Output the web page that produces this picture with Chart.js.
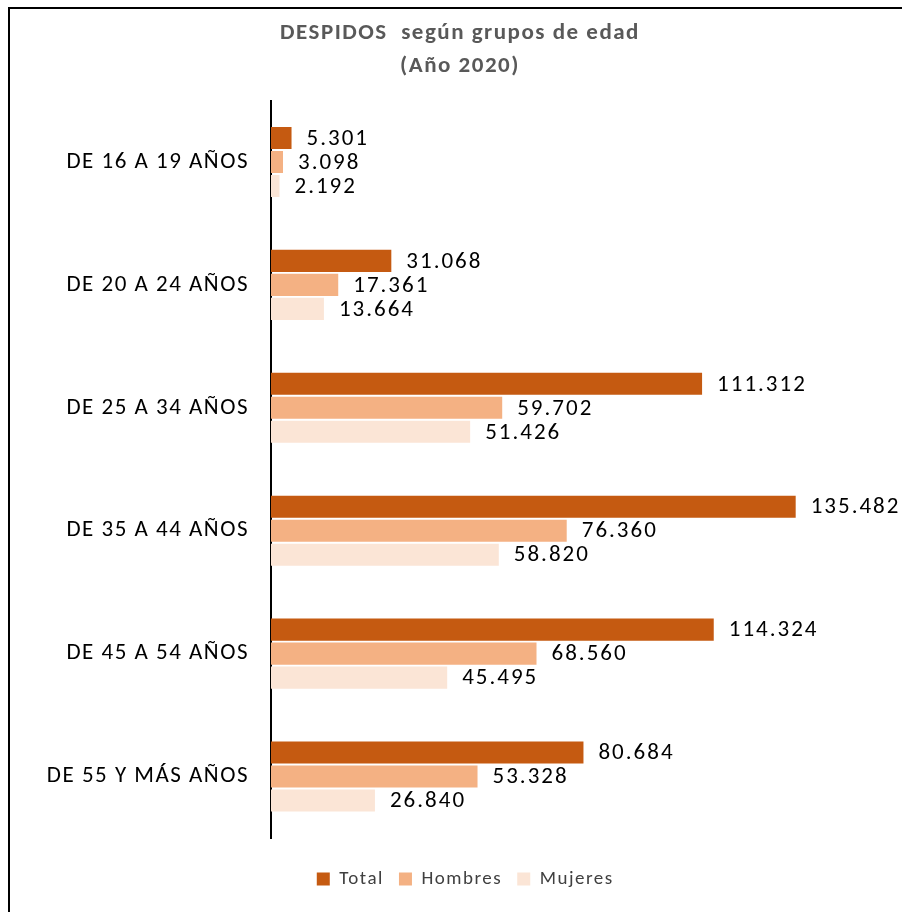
<!DOCTYPE html>
<html lang="es">
<head>
  <meta charset="UTF-8" />
  <title>Despidos según grupos de edad</title>
  <script src="https://cdn.jsdelivr.net/npm/chart.js"></script>
  <style>
    html, body {
      margin: 0;
      background: #ffffff;
      overflow: hidden;
    }
    .frame {
      position: absolute;
      left: 8px;
      top: 7px;
      width: 902px;
      height: 940px;
      border-left: 2px solid #000;
      border-top: 2px solid #000;
      background: #fff;
    }
  </style>
</head>
<body>
  <div class="frame">
    <canvas id="despidos"></canvas>
  </div>

  <script>
    const ageGroups = ['DE 16 A 19 AÑOS', 'DE 20 A 24 AÑOS', 'DE 25 A 34 AÑOS', 'DE 35 A 44 AÑOS', 'DE 45 A 54 AÑOS', 'DE 55 Y MÁS AÑOS'];
    const totalValues = [5301, 31068, 111312, 135482, 114324, 80684];
    const hombresValues = [3098, 17361, 59702, 76360, 68560, 53328];
    const mujeresValues = [2192, 13664, 51426, 58820, 45495, 26840];

    const fontFamily = "Carlito, Calibri, Lato, 'Open Sans', sans-serif";

    // 12345 -> "12.345"
    function fmt(v) {
      return String(v).replace(/\B(?=(\d{3})+(?!\d))/g, '.');
    }

    // Excel-like wide text: a bit of letter spacing for everything
    const spacing = {
      id: 'spacing',
      beforeDraw(chart) {
        chart.ctx.letterSpacing = '1.5px';
      },
      afterLayout(chart) {
        // legend sits a little left of centre in the original
        chart.legend.right -= 18;
      }
    };

    const valueLabels = {
      id: 'valueLabels',
      afterDatasetsDraw(chart) {
        const ctx = chart.ctx;
        ctx.save();
        ctx.font = '23px ' + fontFamily;
        ctx.letterSpacing = '2px';
        ctx.fillStyle = '#000';
        ctx.textAlign = 'left';
        ctx.textBaseline = 'middle';
        chart.data.datasets.forEach((ds, i) => {
          chart.getDatasetMeta(i).data.forEach((bar, j) => {
            ctx.fillText(fmt(ds.data[j]), bar.x + 15, bar.y + 1);
          });
        });
        ctx.restore();
      }
    };

    const canvas = document.getElementById('despidos');
    canvas.width = 900;
    canvas.height = 931;
    canvas.style.width = '900px';
    canvas.style.height = '931px';

    new Chart(canvas.getContext('2d'), {
      type: 'bar',
      data: {
        labels: ageGroups,
        datasets: [
          { label: 'Total', data: totalValues, backgroundColor: '#C55A11' },
          { label: 'Hombres', data: hombresValues, backgroundColor: '#F4B183' },
          { label: 'Mujeres', data: mujeresValues, backgroundColor: '#FBE5D6' }
        ]
      },
      options: {
        indexAxis: 'y',
        responsive: false,
        animation: false,
        categoryPercentage: 0.586,
        barPercentage: 0.92,
        layout: { padding: { top: 7.5, right: 0, bottom: 41.5, left: 0 } },
        plugins: {
          title: {
            display: true,
            text: ['DESPIDOS  según grupos de edad', '(Año 2020)'],
            color: '#595959',
            font: { family: fontFamily, size: 23, weight: 'bold', lineHeight: 1.435 },
            padding: { top: 0, bottom: 18 }
          },
          legend: {
            position: 'bottom',
            labels: {
              color: '#404040',
              font: { family: fontFamily, size: 19 },
              boxWidth: 13,
              boxHeight: 13,
              padding: 15
            }
          },
          tooltip: { enabled: false }
        },
        scales: {
          x: {
            min: 0,
            max: 165000,
            grid: { display: false },
            border: { display: false },
            ticks: { display: false },
            afterFit(scale) { scale.height = 16.5; }
          },
          y: {
            grid: { display: false },
            border: { display: true, color: '#000', width: 2 },
            ticks: {
              color: '#000',
              padding: 14,
              font: { family: fontFamily, size: 23 }
            },
            afterFit(scale) { scale.width = 261; }
          }
        }
      },
      plugins: [spacing, valueLabels]
    });
  </script>
</body>
</html>
